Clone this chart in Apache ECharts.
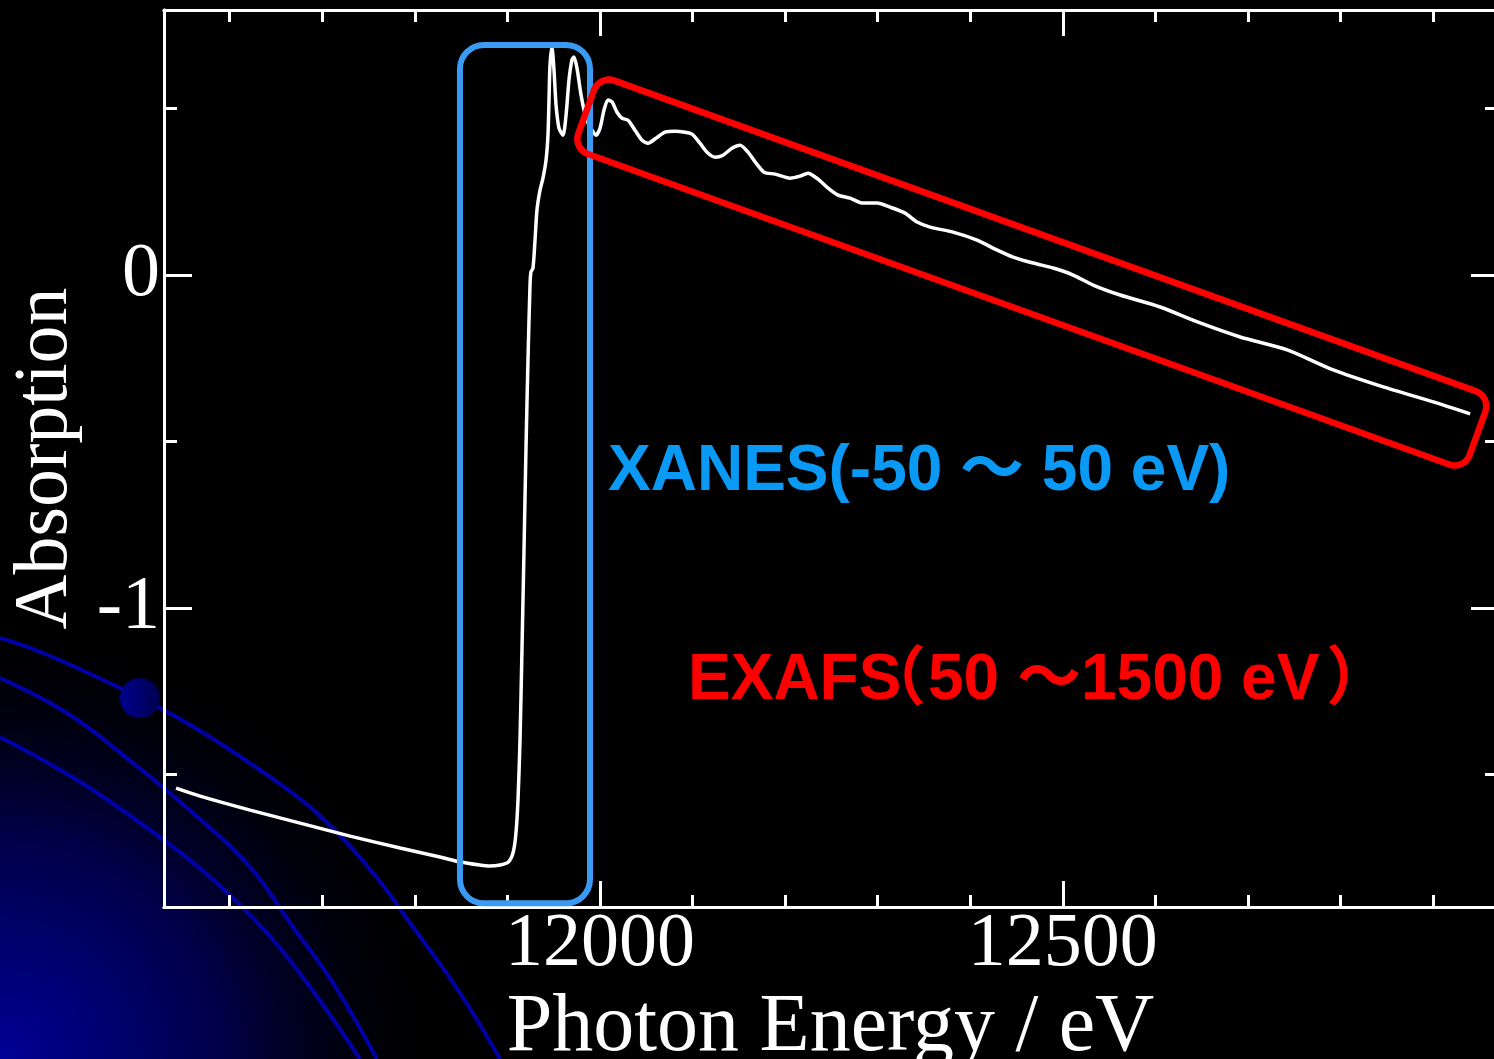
<!DOCTYPE html>
<html>
<head>
<meta charset="utf-8">
<title>XANES / EXAFS</title>
<script src="https://cdn.jsdelivr.net/npm/echarts@6/dist/echarts.min.js"></script>
<style>
  html, body { margin: 0; padding: 0; background: #000; }
  #chart { width: 1494px; height: 1059px; }
</style>
</head>
<body>
<div id="chart"></div>
<script>
// spectrum (photon energy in eV, absorption)
const energy = [
  11542, 11568, 11622, 11676, 11730, 11784, 11827, 11849, 11870, 11881,
  11892, 11901, 11906, 11909, 11911.4, 11913.6, 11915.7, 11917.9, 11920, 11922.2,
  11924.4, 11925.4, 11927.6, 11929.8, 11931.9, 11935.2, 11938.4, 11941.7, 11943.8, 11944.9,
  11946, 11948.1, 11950.3, 11952.5, 11955.7, 11960, 11963.3, 11966.5, 11969.7, 11971.9,
  11975.1, 11979.5, 11984.9, 11991.4, 11995.7, 12000, 12004.3, 12008.6, 12013, 12018.4,
  12023.8, 12030.3, 12037.8, 12045.4, 12051.9, 12060.5, 12070.2, 12081, 12091.8, 12099.4,
  12108, 12115.6, 12124.3, 12132.9, 12142.6, 12151.3, 12159.9, 12168.6, 12177.2, 12189.1,
  12205.3, 12216.1, 12224.7, 12235.5, 12246.4, 12257.2, 12270.1, 12284.2, 12299.3, 12313.3,
  12329.6, 12342.5, 12356.6, 12381.4, 12407.3, 12426.8, 12446.2, 12467.9, 12489.5, 12511.1,
  12532.7, 12561.9, 12605.1, 12648.3, 12691.5, 12742.3, 12792, 12846, 12900.1, 12940
];
const absorption = [
  -1.541, -1.565, -1.607, -1.646, -1.685, -1.721, -1.748, -1.763, -1.772, -1.775,
  -1.772, -1.763, -1.736, -1.682, -1.577, -1.396, -1.126, -0.826, -0.526, -0.255,
  -0.030, 0.009, 0.021, 0.105, 0.195, 0.255, 0.291, 0.345, 0.420, 0.526,
  0.631, 0.685, 0.616, 0.511, 0.441, 0.420, 0.480, 0.586, 0.646, 0.655,
  0.622, 0.541, 0.471, 0.435, 0.420, 0.441, 0.495, 0.526, 0.520, 0.489,
  0.471, 0.465, 0.435, 0.405, 0.396, 0.411, 0.429, 0.432, 0.429, 0.423,
  0.396, 0.369, 0.354, 0.360, 0.381, 0.390, 0.369, 0.336, 0.309, 0.303,
  0.291, 0.297, 0.306, 0.288, 0.261, 0.240, 0.231, 0.216, 0.216, 0.204,
  0.186, 0.159, 0.144, 0.129, 0.105, 0.078, 0.054, 0.036, 0.021, 0.000,
  -0.030, -0.060, -0.096, -0.144, -0.186, -0.225, -0.285, -0.336, -0.381, -0.417
];

const xMajorTicks = [12000, 12500];
const xMinorTicks = [11600, 11700, 11800, 11900, 12100, 12200, 12300, 12400, 12600, 12700, 12800, 12900];
const yMajorTicks = [0, -1];
const yMinorTicks = [0.5, -0.5, -1.5];

// boxes drawn over the plot, corners in (eV, absorption)
const xanesBox = [[11848.7, 0.691], [11989.2, -1.887]];
// exafs box: midpoints of its two short sides
const exafsBox = [[11985, 0.490], [12948, -0.475]];

const xMin = 11529, xMax = 12969;
const yMin = -1.898, yMax = 0.796;

const serif = "'Liberation Serif', 'Times New Roman', serif";
const white = '#ffffff';

function xAxisDef(position, ticks, len, labels, name) {
  return {
    type: 'value', position: position, min: xMin, max: xMax,
    axisLine: { show: true, onZero: false, lineStyle: { color: white, width: 3 } },
    axisTick: { show: true, inside: true, length: len, customValues: ticks, lineStyle: { color: white, width: 3 } },
    axisLabel: labels ? {
      customValues: labels, color: white, fontFamily: serif, fontSize: 76, margin: 0,
      formatter: v => String(v)
    } : { show: false },
    splitLine: { show: false },
    name: name || '',
    nameLocation: 'middle',
    nameGap: 60,
    nameTextStyle: { color: white, fontFamily: serif, fontSize: 82 }
  };
}

function yAxisDef(position, ticks, len, labels, name) {
  return {
    type: 'value', position: position, min: yMin, max: yMax,
    axisLine: { show: true, onZero: false, lineStyle: { color: white, width: 3 } },
    axisTick: { show: true, inside: true, length: len, customValues: ticks, lineStyle: { color: white, width: 3 } },
    axisLabel: labels ? {
      customValues: labels, color: white, fontFamily: serif, fontSize: 76, margin: 4,
      formatter: v => String(v)
    } : { show: false },
    splitLine: { show: false },
    name: name || '',
    nameLocation: 'middle',
    nameGap: 80,
    nameTextStyle: { color: white, fontFamily: serif, fontSize: 76 }
  };
}

const chart = echarts.init(document.getElementById('chart'));

chart.setOption({
  backgroundColor: '#000000',
  animation: false,
  grid: { left: 164, right: -3, top: 10, bottom: 152, outerBoundsMode: 'none', containLabel: false },
  xAxis: [
    xAxisDef('bottom', xMajorTicks, 26, xMajorTicks, 'Photon Energy / eV'),
    xAxisDef('bottom', xMinorTicks, 12),
    xAxisDef('top', xMajorTicks, 26),
    xAxisDef('top', xMinorTicks, 12)
  ],
  yAxis: [
    yAxisDef('left', yMajorTicks, 28, yMajorTicks, 'Absorption'),
    yAxisDef('left', yMinorTicks, 13),
    yAxisDef('right', yMajorTicks, 26),
    yAxisDef('right', yMinorTicks, 12)
  ],
  series: [{
    type: 'line',
    xAxisIndex: 0,
    yAxisIndex: 0,
    data: energy.map((e, i) => [e, absorption[i]]),
    showSymbol: false,
    smooth: 0.25,
    lineStyle: { color: white, width: 3.5 },
    z: 5
  }]
});

// place the annotation boxes through the axes
const toPx = p => chart.convertToPixel({ xAxisIndex: 0, yAxisIndex: 0 }, p);
const b0 = toPx(xanesBox[0]), b1 = toPx(xanesBox[1]);
const e0 = toPx(exafsBox[0]), e1 = toPx(exafsBox[1]);
const eLen = Math.hypot(e1[0] - e0[0], e1[1] - e0[1]);
const eAng = Math.atan2(e1[1] - e0[1], e1[0] - e0[0]);
const eThick = 78;

const decoBlue = '#0000aa';
const curve = pts => ({
  type: 'polyline', z: -10, silent: true,
  shape: { points: pts, smooth: 0.4 },
  style: { stroke: decoBlue, lineWidth: 4, fill: null }
});

const boldFont = "bold 64px 'Liberation Sans', 'Noto Sans CJK JP', sans-serif";
const label = (text, x, y, color) => ({
  type: 'text', z: 10, silent: true,
  style: { text: text, x: x, y: y, textVerticalAlign: 'middle', fill: color, font: boldFont }
});

chart.setOption({
  graphic: [
    // slide decoration, bottom-left corner
    {
      type: 'circle', z: -20, silent: true,
      shape: { cx: 0, cy: 1059, r: 450 },
      style: {
        fill: new echarts.graphic.RadialGradient(0.5, 0.5, 0.5, [
          { offset: 0, color: '#000096' },
          { offset: 0.5, color: '#000048' },
          { offset: 1, color: 'rgba(0,0,0,0)' }
        ])
      }
    },
    curve([[0, 638], [43, 653], [120, 688], [187, 723], [260, 770], [317, 813], [373, 873], [413, 927], [460, 993], [500, 1059]]),
    curve([[0, 678], [67, 713], [133, 763], [193, 813], [250, 867], [293, 927], [333, 983], [377, 1059]]),
    curve([[0, 737], [77, 780], [150, 830], [210, 877], [267, 933], [310, 987], [360, 1059]]),
    {
      type: 'circle', z: -5, silent: true,
      shape: { cx: 140, cy: 698, r: 20 },
      style: {
        fill: new echarts.graphic.LinearGradient(0, 0, 1, 0, [
          { offset: 0, color: '#00008e' },
          { offset: 1, color: '#00004e' }
        ])
      }
    },
    // XANES region
    {
      type: 'rect', z: 10, silent: true,
      shape: { x: b0[0], y: b0[1], width: b1[0] - b0[0], height: b1[1] - b0[1], r: 24 },
      style: { fill: null, stroke: '#3a9bf4', lineWidth: 6 }
    },
    // EXAFS region
    {
      type: 'rect', z: 10, silent: true,
      x: (e0[0] + e1[0]) / 2, y: (e0[1] + e1[1]) / 2,
      rotation: -eAng,
      shape: { x: -eLen / 2, y: -eThick / 2, width: eLen, height: eThick, r: 16 },
      style: { fill: null, stroke: '#ff0000', lineWidth: 6.5 }
    },
    label('XANES(-50 ～ 50 eV)', 608, 472, '#0a99f5'),
    label('EXAFS', 688, 681, '#ff0000'),
    label('（', 862, 681, '#ff0000'),
    label('50 ～1500 eV', 928, 681, '#ff0000'),
    label('）', 1326, 681, '#ff0000')
  ]
});
</script>
</body>
</html>
